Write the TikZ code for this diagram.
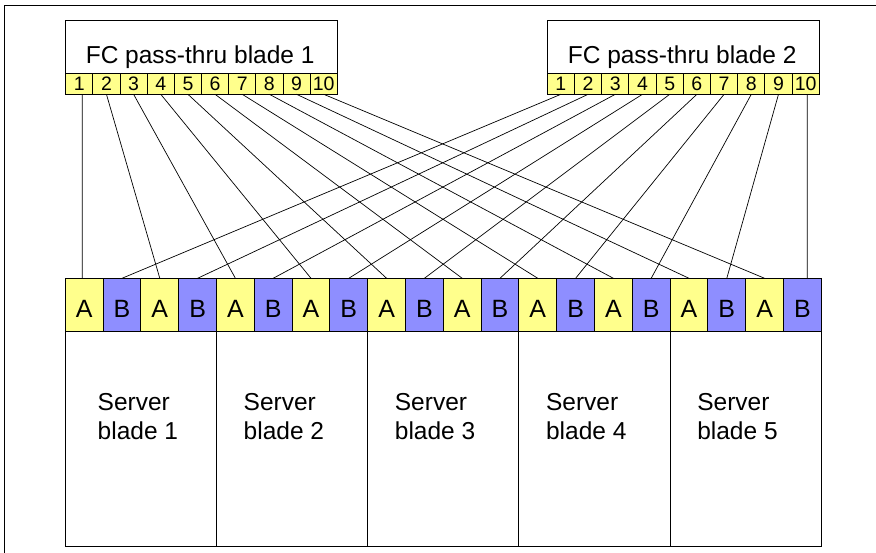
\documentclass[tikz,border=0pt]{standalone}
\usepackage{fontspec}
\setmainfont{Liberation Sans}
\definecolor{portY}{RGB}{255,255,140}
\definecolor{portB}{RGB}{142,142,255}
\begin{document}
\begin{tikzpicture}[x=1pt,y=-1pt,
  box/.style={draw,line width=0.9pt,inner sep=0pt,outer sep=0pt,anchor=north west},
  bladebox/.style={box,minimum width=#1,minimum height=73.6pt},
  bport/.style={box,fill=portY,minimum width=27.18pt,minimum height=21pt,
    font=\fontsize{19.5}{19.5}\selectfont,text height=14.4pt,text depth=0pt},
  sA/.style={box,fill=portY,minimum width=37.8pt,minimum height=53.4pt,
    font=\fontsize{25}{25}\selectfont,text height=24.6pt,text depth=0pt},
  sB/.style={sA,fill=portB},
  srv/.style={box,minimum width=151.2pt,minimum height=214.3pt},
  lbl/.style={inner sep=0pt,anchor=base west,font=\fontsize{24.5}{24.5}\selectfont},
  wire/.style={line width=0.7pt}]
\useasboundingbox (0,0) rectangle (876,553);
% outer frame (cropped)
\draw[line width=0.9pt] (4,553) -- (4,5) -- (876,5);
% FC pass-thru blades
\node[bladebox=271.6pt] (bl1) at (65.7,20.7) {};
\node[bladebox=272pt] (bl2) at (547.3,20.7) {};
\node[lbl] (bl1t) at (85.6,64) {FC pass-thru blade 1};
\node[lbl] (bl2t) at (567.6,64) {FC pass-thru blade 2};
\foreach \k in {1,...,10} {
  \node[bport] (b1p\k) at ({65.7+27.16*(\k-1)},73.3) {\k};
  \node[bport] (b2p\k) at ({547.3+27.2*(\k-1)},73.3) {\k};
}
% server blade ports
\foreach \i in {1,...,20} {
  \pgfmathtruncatemacro\odd{mod(\i,2)}
  \ifnum\odd=1
    \node[sA] (c\i) at ({65.3+37.8*(\i-1)},278.3) {A};
  \else
    \node[sB] (c\i) at ({65.3+37.8*(\i-1)},278.3) {B};
  \fi
}
% server blades
\foreach \s in {1,...,5} {
  \node[srv] (srv\s) at ({65.3+151.2*(\s-1)},331.7) {};
}
\node[lbl] (sv1a) at (97.5,410.3) {Server};
\node[lbl] (sv1b) at (97.5,439.5) {blade 1};
\foreach \s in {2,...,5} {
  \node[lbl] (sv\s a) at ({65.3+151.2*(\s-1)+27},410.3) {Server};
  \node[lbl] (sv\s b) at ({65.3+151.2*(\s-1)+27},439.5) {blade \s};
}
% wires
\draw[wire] ([xshift=3pt]b1p1.south) -- ([xshift=-1.9pt]c1.north);
\foreach \k in {2,...,10} {
  \pgfmathtruncatemacro\c{2*\k-1}
  \draw[wire] (b1p\k.south) -- (c\c.north);
}
\foreach \k in {1,...,9} {
  \pgfmathtruncatemacro\c{2*\k}
  \draw[wire] (b2p\k.south) -- (c\c.north);
}
\draw[wire] ([xshift=1.6pt]b2p10.south) -- ([xshift=4.9pt]c20.north);
\end{tikzpicture}
\end{document}
